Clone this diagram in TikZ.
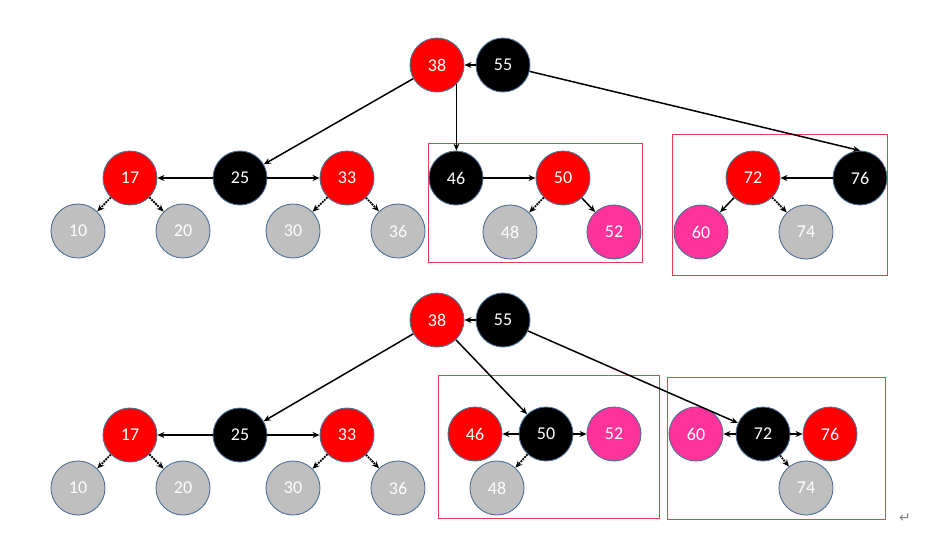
\documentclass[tikz,border=0pt]{standalone}
\usepackage{fontspec}
\setmainfont{Carlito}
\newfontfamily\symfont{DejaVu Sans}
\usetikzlibrary{arrows.meta}
\definecolor{rbred}{HTML}{FF0000}
\definecolor{rbgray}{HTML}{BFBFBF}
\definecolor{rbpink}{HTML}{FF3399}
\definecolor{rbedge}{HTML}{4F7196}
\definecolor{boxred}{HTML}{E8404F}
\tikzset{
  nd/.style={circle, minimum size=54pt, inner sep=0pt, draw=rbedge, line width=0.9pt, text=white, font=\fontsize{18}{18}\selectfont},
  rn/.style={nd, fill=rbred},
  bn/.style={nd, fill=black},
  gn/.style={nd, fill=rbgray},
  pn/.style={nd, fill=rbpink},
  ar/.style={line width=1.5pt, -{Stealth[length=7pt,width=6pt]}},
  dar/.style={line width=1.8pt, densely dotted, -{Stealth[length=7pt,width=6pt]}},
  grp/.style={draw=boxred, line width=1pt}
}
\begin{document}
\begin{tikzpicture}[x=1pt,y=-1pt]
\useasboundingbox (0,0) rectangle (945,542);
% ---------- top tree ----------
\draw[grp] (428,143) rectangle (642,262);
\draw[grp] (672,134) rectangle (887,275);
\node[rn] (a38) at (437,65) {38};
\node[bn] (a55) at (503,65) {55};
\node[rn] (a17) at (130,178) {17};
\node[bn] (a25) at (240,178) {25};
\node[rn] (a33) at (347,178) {33};
\node[gn] (a10) at (78,231) {10};
\node[gn] (a20) at (183,231) {20};
\node[gn] (a30) at (293,231) {30};
\node[gn] (a36) at (398,231) {36};
\node[bn] (a46) at (456,178) {46};
\node[rn] (a50) at (563,178) {50};
\node[gn] (a48) at (510,232) {48};
\node[pn] (a52) at (614,232) {52};
\node[rn] (a72) at (753,178) {72};
\node[bn] (a76) at (860,178) {76};
\node[pn] (a60) at (701,232) {60};
\node[gn] (a74) at (806,232) {74};
\draw[ar] (a55) -- (a38);
\draw[ar] (a38) -- (a25);
\coordinate (a38d) at (a38.-45);
\draw[ar] (a38d) -- (a38d |- a46.north);
\draw[ar] (a55) -- (a76.north);
\draw[ar] (a25) -- (a17);
\draw[ar] (a25) -- (a33);
\draw[dar] (a17) -- (a10);
\draw[dar] (a17) -- (a20);
\draw[dar] (a33) -- (a30);
\draw[dar] (a33) -- (a36);
\draw[ar] (a46) -- (a50);
\draw[dar] (a50) -- (a48);
\draw[ar] (a50) -- (a52);
\draw[ar] (a76) -- (a72);
\draw[ar] (a72) -- (a60);
\draw[dar] (a72) -- (a74);
% ---------- bottom tree ----------
\draw[grp] (438,375) rectangle (659,518);
\draw[grp] (667,377) rectangle (885,519);
\node[rn] (b38) at (437,320) {38};
\node[bn] (b55) at (503,320) {55};
\node[rn] (b17) at (130,435) {17};
\node[bn] (b25) at (240,435) {25};
\node[rn] (b33) at (347,435) {33};
\node[gn] (b10) at (78,488) {10};
\node[gn] (b20) at (183,488) {20};
\node[gn] (b30) at (293,488) {30};
\node[gn] (b36) at (398,488) {36};
\node[rn] (b46) at (475,434) {46};
\node[bn] (b50) at (546,434) {50};
\node[pn] (b52) at (614,434) {52};
\node[gn] (b48) at (497,488) {48};
\node[pn] (b60) at (696,434) {60};
\node[bn] (b72) at (763,434) {72};
\node[rn] (b76) at (830,434) {76};
\node[gn] (b74) at (806,488) {74};
\draw[ar] (b55) -- (b38);
\draw[ar] (b38) -- (b25);
\draw[ar] (b38) -- (b50);
\draw[ar] (b55) -- (b72);
\draw[ar] (b25) -- (b17);
\draw[ar] (b25) -- (b33);
\draw[dar] (b17) -- (b10);
\draw[dar] (b17) -- (b20);
\draw[dar] (b33) -- (b30);
\draw[dar] (b33) -- (b36);
\draw[ar] (b50) -- (b46);
\draw[ar] (b50) -- (b52);
\draw[dar] (b50) -- (b48);
\draw[ar] (b72) -- (b60);
\draw[ar] (b72) -- (b76);
\draw[dar] (b72) -- (b74);
\node[text=gray, font=\symfont\fontsize{14}{14}\selectfont] (ret) at (905,518) {↵};
\end{tikzpicture}
\end{document}
